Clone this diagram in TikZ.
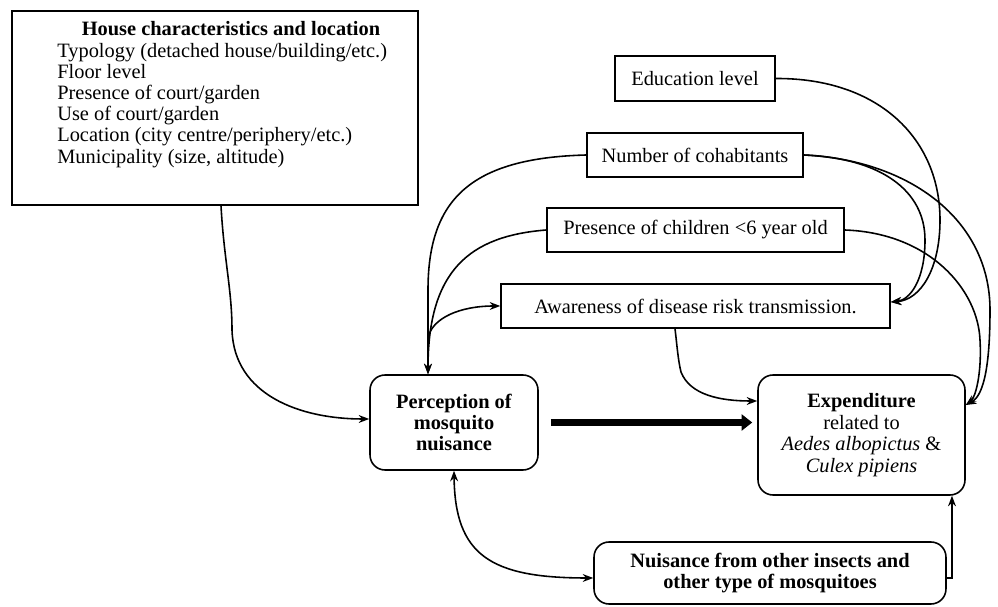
\documentclass[tikz,border=0pt]{standalone}
\usepackage{fontspec}
\setmainfont{Liberation Serif}
\usetikzlibrary{arrows.meta}
\begin{document}
\begin{tikzpicture}[x=0.02cm,y=-0.02cm,
  font=\fontsize{11.6pt}{12.2pt}\selectfont,
  box/.style={draw,line width=0.9pt,inner sep=0pt,align=center},
  rbox/.style={box,rounded corners=0.3cm},
  arr/.style={line width=0.9pt,-{Stealth[length=6pt,width=4.5pt]}},
  dblarr/.style={line width=0.9pt,{Stealth[length=6pt,width=4.5pt]}-{Stealth[length=6pt,width=4.5pt]}},
  bigarr/.style={line width=3.5pt,-{Triangle[length=6pt,width=9pt]}}]
\useasboundingbox (0,0) rectangle (998,607);
\node[box,minimum width=8.12cm,minimum height=3.88cm] (house) at (215,108) {};
\node[anchor=base] (htitle) at (231,36) {\textbf{House characteristics and location}};
\foreach \txt [count=\i] in {Typology (detached house/building/etc.),Floor level,Presence of court/garden,Use of court/garden,Location (city centre/periphery/etc.),{Municipality (size, altitude)}}
  \node[anchor=base west,inner sep=0pt] (hl\i) at (57,36+21.2*\i) {\txt};
\node[box,minimum width=3.2cm,minimum height=0.9cm] (edu) at (695,78.5) {Education level};
\node[box,minimum width=4.32cm,minimum height=0.88cm] (cohab) at (695,155) {Number of cohabitants};
\node[box,minimum width=5.94cm,minimum height=0.88cm] (child) at (695.5,230) {Presence of children <6 year old};
\node[box,minimum width=7.78cm,minimum height=0.88cm] (aware) at (695.5,306) {Awareness of disease risk transmission.};
\node[rbox,minimum width=3.36cm,minimum height=1.9cm] (perc) at (454,422.5) {\textbf{Perception of}\\\textbf{mosquito}\\\textbf{nuisance}};
\node[rbox,minimum width=4.14cm,minimum height=2.4cm] (expend) at (861.5,435) {\textbf{Expenditure}\\related to\\\textit{Aedes albopictus} \&\\\textit{Culex pipiens}};
\node[rbox,minimum width=7.04cm,minimum height=1.24cm] (nuis) at (770,573) {\textbf{Nuisance from other insects and}\\\textbf{other type of mosquitoes}};
\coordinate (fork) at (428,338);
\draw[arr] ([xshift=0.12cm]house.south) .. controls (224,260) and (232,290) .. (232,330) .. controls (234,395) and (300,419) .. ([yshift=0.07cm]perc.west);
\draw[arr] (cohab.west) .. controls (470,158) and (428,200) .. (428,290) -- ([xshift=-0.52cm]perc.north);
\draw[arr] (child.west) .. controls (470,236) and (428,270) .. ([xshift=-0.52cm]perc.north);
\draw[arr] (fork) .. controls (432,318) and (460,306) .. (aware.west);
\draw[arr] ([xshift=-0.41cm]aware.south) .. controls (677,345) and (678,360) .. (681,372) .. controls (690,395) and (720,401) .. ([yshift=0.68cm]expend.west);
\draw[arr] (edu.east) .. controls (880,78) and (940,140) .. (940,220) .. controls (940,270) and (920,300) .. ([yshift=0.08cm]aware.east);
\draw[arr] (cohab.east) .. controls (880,158) and (925,190) .. (925,240) .. controls (925,280) and (910,300) .. ([yshift=0.08cm]aware.east);
\draw[arr] (cohab.east) .. controls (910,160) and (990,220) .. (990,310) .. controls (990,360) and (985,395) .. ([yshift=0.6cm]expend.east);
\draw[arr] (child.east) .. controls (930,233) and (978,290) .. (980,340) .. controls (982,375) and (975,398) .. ([yshift=0.6cm]expend.east);
\draw[dblarr] (perc.south) .. controls (455,555) and (490,578) .. ([yshift=-0.1cm]nuis.west);
\draw[arr] ([yshift=-0.1cm]nuis.east) -| ([xshift=1.81cm]expend.south);
\draw[bigarr,shorten <=0.24cm,shorten >=0.1cm] (perc.east) -- (perc.east -| expend.west);
\end{tikzpicture}
\end{document}
